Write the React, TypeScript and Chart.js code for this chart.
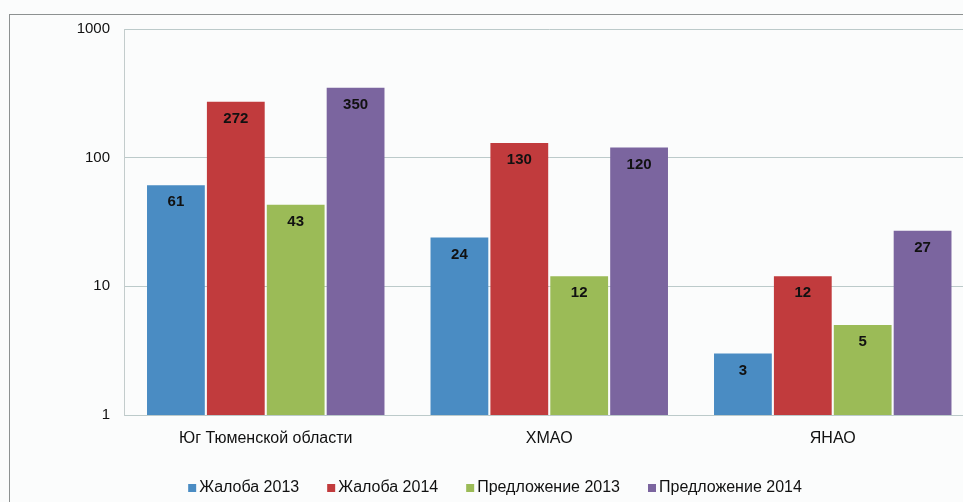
import React, { useEffect, useRef } from "react";
import { Chart, registerables } from "chart.js";

Chart.register(...registerables);

const categories = ["Юг Тюменской области", "ХМАО", "ЯНАО"];
const zhaloba2013 = [61, 24, 3];
const zhaloba2014 = [272, 130, 12];
const predlozhenie2013 = [43, 12, 5];
const predlozhenie2014 = [350, 120, 27];
const yTicks = [1, 10, 100, 1000];

const seriesNames = ["Жалоба 2013", "Жалоба 2014", "Предложение 2013", "Предложение 2014"];
const seriesColors = ["#4a8cc3", "#c13b3d", "#9bbb57", "#7b659f"];

const FONT = "'Liberation Sans', Arial, sans-serif";

const valueLabels = {
  id: "valueLabels",
  afterDatasetsDraw(chart: any) {
    const ctx = chart.ctx;
    ctx.save();
    ctx.font = `bold 15px ${FONT}`;
    ctx.fillStyle = "#111";
    ctx.textAlign = "center";
    ctx.textBaseline = "middle";
    chart.data.datasets.forEach((ds: any, i: number) => {
      const meta = chart.getDatasetMeta(i);
      meta.data.forEach((bar: any, j: number) => {
        ctx.fillText(String(ds.data[j]), bar.x, bar.y + 17);
      });
    });
    ctx.restore();
  },
};

const bottomLegend = {
  id: "bottomLegend",
  afterDraw(chart: any) {
    const ctx = chart.ctx;
    ctx.save();
    ctx.font = `16px ${FONT}`;
    ctx.textBaseline = "middle";
    ctx.textAlign = "left";
    const box = 8;
    const gap = 3;
    const itemGap = 28;
    const ds = chart.data.datasets;
    const widths = ds.map((d: any) => ctx.measureText(d.label).width);
    const total = widths.reduce((a: number, b: number) => a + b, 0) + ds.length * (box + gap) + (ds.length - 1) * itemGap;
    let x = 485 - total / 2;
    const y = 473;
    ds.forEach((d: any, i: number) => {
      ctx.fillStyle = d.backgroundColor;
      ctx.fillRect(x, y - box / 2, box, box);
      ctx.fillStyle = "#111";
      ctx.fillText(d.label, x + box + gap, y);
      x += box + gap + widths[i] + itemGap;
    });
    ctx.restore();
  },
};

export default function App() {
  const ref = useRef<HTMLCanvasElement>(null);
  useEffect(() => {
    if (!ref.current) return;
    const data = [zhaloba2013, zhaloba2014, predlozhenie2013, predlozhenie2014];
    const chart = new Chart(ref.current, {
      type: "bar",
      data: {
        labels: categories,
        datasets: data.map((d, i) => ({
          label: seriesNames[i],
          data: d,
          backgroundColor: seriesColors[i],
          borderWidth: 0,
          categoryPercentage: 0.845,
          barPercentage: 0.965,
        })),
      },
      options: {
        animation: false,
        responsive: false,
        maintainAspectRatio: false,
        layout: { padding: { left: 0, right: 35.5, top: 14, bottom: 39 } },
        plugins: {
          tooltip: { enabled: false },
          legend: { display: false },
        },
        scales: {
          x: {
            grid: { display: false, drawTicks: false },
            border: { display: false },
            ticks: { color: "#111", padding: 14, font: { family: FONT, size: 16 } },
            afterFit: (s: any) => {
              s.height = 51;
              s.paddingLeft = 0;
              s.paddingRight = 0;
            },
          },
          y: {
            type: "logarithmic",
            min: 1,
            max: 1000,
            afterBuildTicks: (s: any) => {
              s.ticks = yTicks.map((v) => ({ value: v }));
            },
            afterFit: (s: any) => {
              s.width = 114;
              s.paddingTop = 0;
              s.paddingBottom = 0;
            },
            grid: { color: "#bccaca", drawTicks: false, lineWidth: 1 },
            border: { display: true, color: "#c3cccc" },
            ticks: {
              color: "#111",
              padding: 14,
              font: { family: FONT, size: 15 },
              callback: (v: any) => String(v),
            },
          },
        },
      },
      plugins: [valueLabels, bottomLegend],
    });
    return () => chart.destroy();
  }, []);

  return (
    <div style={{ position: "fixed", left: 0, top: 0, width: 963, height: 502, overflow: "hidden", background: "#fbfcfc" }}>
      <div
        style={{
          position: "absolute",
          left: 9,
          top: 14,
          width: 1010,
          height: 500,
          borderLeft: "1px solid #8d9191",
          borderTop: "1px solid #8d9191",
        }}
      >
        <canvas ref={ref} width={1000} height={490} style={{ display: "block" }} />
      </div>
    </div>
  );
}
